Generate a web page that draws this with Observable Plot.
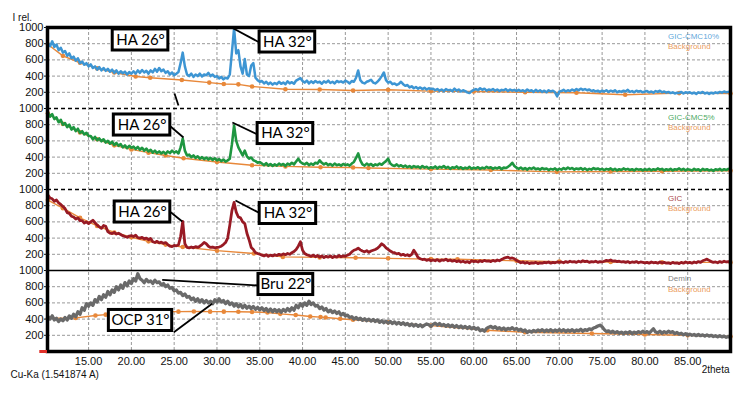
<!DOCTYPE html>
<html><head><meta charset="utf-8">
<script src="https://cdn.jsdelivr.net/npm/d3@7"></script>
<script src="https://cdn.jsdelivr.net/npm/@observablehq/plot@0.6"></script>
<style>body{margin:0;background:#fff}#chart{width:745px;height:393px}</style>
</head><body><div id="chart"></div>
<script>
// ---- sampling grid (2theta) ----
const xStart = 10.25, xStep = 0.25;
const xTicks = [15,20,25,30,35,40,45,50,55,60,65,70,75,80,85];
const yTicks = [200,400,600,800,1000];
const seriesNames = ["GIC-CMC10%","GIC-CMC5%","GIC","Demin"];
const seriesColors = ["#3d95d3","#1e9640","#981a24","#6a6a6a"];
const seriesWidths = [2.5, 2.6, 2.8, 3.3];
const bgColor = "#e8883a";

// ---- intensities (I rel.), one value per 0.25 deg from 10.25 to 90 ----
const cmc10 = [
810,770,830,760,790,720,750,690,710,650,680,620,640,590,620,560,580,540,560,520,
545,500,520,480,510,470,500,465,490,455,480,440,470,430,460,435,455,420,450,430,
460,430,470,440,475,445,465,430,470,445,490,455,500,460,480,440,460,420,445,410,
430,450,560,690,520,420,400,430,390,420,400,430,395,420,410,440,400,420,390,400,
370,390,360,380,370,420,700,990,680,720,520,430,610,420,400,530,560,380,350,330,
340,310,330,300,320,295,315,300,330,305,320,300,335,310,325,305,345,360,375,340,
320,345,310,335,315,340,320,330,305,335,320,345,315,330,310,340,325,335,320,345,
330,310,340,330,380,470,350,320,310,330,340,355,320,310,330,360,400,445,350,320,
330,300,310,290,305,330,300,280,290,260,275,250,265,245,260,240,255,235,250,240,
245,225,240,220,235,215,240,225,230,215,245,220,235,210,225,215,200,190,215,230,
240,225,250,230,245,220,235,225,240,220,235,215,230,225,240,215,235,220,230,215,
230,215,225,210,235,215,225,205,230,210,225,205,220,200,225,210,220,200,150,210,
215,230,210,225,215,235,220,240,225,245,230,240,225,235,215,225,210,220,205,220,
210,225,205,220,210,225,200,215,205,220,210,230,205,215,200,220,210,215,200,210,
215,200,210,195,215,205,220,200,210,195,205,190,200,185,195,190,205,185,200,195,
200,185,195,180,200,190,205,185,195,180,195,185,200,190,205,195,210,200,205,210];
const cmc5 = [
950,900,930,870,890,830,860,800,820,770,800,740,770,720,750,700,720,680,700,660,
660,620,650,610,630,595,620,580,600,565,590,550,575,540,560,520,545,510,540,515,
530,500,525,490,515,480,505,470,490,455,480,450,470,445,465,440,470,450,480,455,
470,445,520,630,480,420,430,400,420,390,410,380,400,375,395,370,390,365,385,360,
375,350,370,345,360,380,560,790,600,520,470,420,480,410,380,395,360,350,330,340,
320,300,325,295,315,290,310,295,320,300,315,290,320,305,330,310,345,380,340,320,
310,330,300,320,305,330,320,360,330,310,325,300,315,295,320,300,310,295,315,300,
310,295,320,340,390,445,360,310,295,320,300,315,290,310,300,320,305,330,350,380,
320,300,290,310,285,300,280,295,275,290,270,290,275,285,265,290,270,280,260,275,
265,285,260,280,270,290,265,280,255,275,265,285,260,275,255,270,260,280,255,270,
260,275,255,270,260,280,265,275,255,270,260,275,250,270,265,280,300,330,290,270,
255,270,250,265,245,265,255,270,250,260,245,265,250,260,240,255,245,260,240,255,
245,265,250,270,255,265,245,260,250,265,245,260,240,255,245,265,250,260,245,255,
240,255,245,260,240,255,235,250,240,260,245,255,240,250,235,255,245,250,235,250,
240,255,235,250,240,260,245,255,235,250,240,255,235,250,245,260,240,255,235,250,
245,235,255,240,250,230,255,240,250,235,245,230,250,240,255,235,250,240,255,245];
const gic = [
930,895,885,855,870,835,815,790,765,715,705,670,660,635,650,615,615,585,600,580,
600,620,590,560,540,520,555,545,480,460,455,470,450,460,445,430,420,410,425,430,
420,435,405,400,410,390,400,380,395,355,345,360,340,350,335,345,320,300,295,310,
305,315,420,605,330,285,280,290,280,295,285,300,320,345,330,300,285,290,280,285,
290,300,320,345,400,560,740,840,720,660,650,600,580,460,380,285,260,220,210,200,
190,180,195,175,190,180,195,185,200,190,205,195,210,200,220,235,260,300,355,250,
210,195,185,175,190,170,185,165,180,160,175,165,180,160,175,165,185,170,180,175,
190,200,230,250,260,275,255,240,230,245,225,240,250,260,275,300,330,310,280,260,
240,225,220,205,210,190,200,185,195,180,200,250,210,160,145,135,140,125,135,120,
130,120,135,115,130,125,140,120,130,115,125,110,120,105,115,100,110,95,120,110,
115,105,120,110,125,115,120,110,125,115,130,120,135,150,160,165,150,155,145,125,
110,95,105,90,100,85,95,90,100,85,95,90,100,95,105,90,100,95,105,100,
105,95,110,100,115,105,110,100,115,105,120,110,115,100,110,105,115,100,110,105,
115,125,120,130,115,120,110,115,105,110,100,110,95,105,100,110,95,105,100,95,
100,90,105,95,100,90,105,95,100,90,95,85,100,90,95,85,100,90,105,95,
100,90,105,95,110,100,120,130,140,125,110,100,105,95,110,100,115,105,110,105];
const demin = [
430,400,440,390,410,370,400,380,420,390,440,410,460,430,490,460,540,510,590,560,
600,570,640,610,680,640,700,670,740,700,760,730,800,760,820,780,850,810,870,840,
900,870,960,900,880,850,890,860,870,840,880,850,860,820,840,800,820,780,790,750,
760,720,730,690,710,670,680,640,660,620,650,610,640,600,630,600,620,590,640,610,
650,610,630,590,620,580,600,560,590,550,580,540,570,535,560,530,555,520,545,515,
540,505,530,495,525,490,520,490,515,485,520,495,530,500,540,510,570,540,590,560,
600,570,620,580,600,560,570,530,550,510,530,490,510,480,500,470,490,450,470,440,
450,420,430,400,420,395,410,385,405,380,400,375,395,370,390,360,380,355,375,350,
370,345,365,340,360,335,355,330,345,320,340,315,335,310,330,305,325,340,330,310,
335,350,325,345,320,335,310,330,305,325,300,320,295,315,290,310,285,305,280,300,
275,290,255,270,250,285,300,310,290,305,280,295,270,290,265,285,275,295,270,285,
260,275,250,265,235,255,240,260,245,265,250,270,245,265,250,270,245,265,250,270,
250,270,245,265,250,270,245,265,255,275,250,270,260,280,270,290,300,315,325,305,
270,245,255,235,250,230,245,225,240,220,240,225,245,220,240,225,245,230,250,235,
245,225,255,280,240,230,250,225,245,230,250,235,245,220,235,215,225,205,220,200,
215,200,210,195,210,195,205,190,205,190,200,185,195,180,195,180,190,175,185,180];

// ---- background curves (anchor points) ----
const bg10X = [10.25,12,14,16,18,20.5,22.2,25.9,29.1,30.8,32.5,34.1,38,42,45.9,50,55,60,66,72,77.7,84,90];
const bg10V = [790,650,565,495,445,395,380,352,320,303,298,272,238,235,222,232,215,210,200,195,170,190,185];
const bg5X = [10.25,12,14,16,18,20,22,24,26.1,30,34.1,38,42.1,45.9,47.7,55,62,69.7,76,82,90];
const bg5V = [940,810,705,620,545,495,455,420,385,340,300,285,275,272,265,252,240,218,222,225,232];
const bgGX = [10.25,12,14,16,18,20,22,24,26,30,34.3,37.7,42,46.2,50,55,58.1,65,70,76,82,90];
const bgGV = [870,770,650,550,470,410,360,320,290,245,210,168,162,158,150,140,138,120,110,105,100,100];
const bgDX = [10.25,13.5,15.8,17,18.2,20.5,22.2,23.8,25.5,27.3,29.2,30.8,32.5,34.1,35.9,37.4,39.2,40.9,42.1,42.7,44.4,45.9,50,55,61.6,66,73.8,80,85,90];
const bgDV = [410,415,445,455,465,480,488,490,492,493,492,492,490,488,482,465,450,432,425,420,405,392,360,320,262,238,222,210,200,185];

// ---- annotations ----
const annText = ["HA 26°","HA 32°","HA 26°","HA 32°","HA 26°","HA 32°","Bru 22°","OCP 31°"];
const annPanel = [0,0,1,1,2,2,3,3];
const annX = [21.07,38.23,21.25,38.0,21.3,38.29,38.05,21.07];
const annV = [846,821,796,691,722,704,827,383];
const annW = [6.5,6.5,6.6,6.5,6.5,6.6,6.4,7.4];
const leadPanel = [0,0,1,1,2,2,3,3];
const leadX1 = [25.04,31.93,24.57,31.8,24.6,32.16,23.6,24.96];
const leadV1 = [185,988,778,827,720,864,885,238];
const leadX2 = [25.5,34.96,26.09,34.73,25.94,35.08,34.84,29.43];
const leadV2 = [37,815,642,679,605,704,815,589];

// ---- build tables ----
const off = p => (3 - p) * 1000;
const signals = [cmc10, cmc5, gic, demin];
const bgs = [[bg10X,bg10V],[bg5X,bg5V],[bgGX,bgGV],[bgDX,bgDV]];
const lines = signals.map((arr, p) => arr.map((v, i) => ({x: xStart + i * xStep, y: v + off(p)})));
const bgLines = bgs.map(([xs, vs], p) => xs.map((x, i) => ({x, y: vs[i] + off(p)})));
const allTicks = [0,1,2,3].flatMap(k => yTicks.map(t => t + k * 1000));
const gridY = [0,1,2,3].flatMap(k => [200,400,600,800].map(t => t + k * 1000));
const anns = annText.map((t, i) => ({t, x: annX[i], y: annV[i] + off(annPanel[i]), w: annW[i]}));
const leads = leadX1.map((x, i) => ({x1: x, y1: leadV1[i] + off(leadPanel[i]), x2: leadX2[i], y2: leadV2[i] + off(leadPanel[i])}));
const legends = seriesNames.flatMap((n, p) => [
  {t: n, x: 82.7, y: (p === 3 ? 905 : 893) + off(p), c: seriesColors[p]},
  {t: "Background", x: 82.7, y: 770 + off(p), c: bgColor}]);

const marks = [
  Plot.ruleX(xTicks, {stroke: "#999", strokeDasharray: "3,2", strokeWidth: 1}),
  Plot.ruleY(gridY, {stroke: "#999", strokeDasharray: "3,2", strokeWidth: 1}),
  Plot.ruleY([2000, 3000], {stroke: "#000", strokeDasharray: "4,3", strokeWidth: 1.3}),
  Plot.ruleY([1000], {stroke: "#000", strokeWidth: 1.5}),
];
bgLines.forEach(d => {
  marks.push(Plot.line(d, {x: "x", y: "y", stroke: bgColor, strokeWidth: 1.4}));
  marks.push(Plot.dot(d, {x: "x", y: "y", fill: bgColor, r: 2.3}));
});
lines.forEach((d, p) => marks.push(Plot.line(d, {x: "x", y: "y", stroke: seriesColors[p], strokeWidth: seriesWidths[p]})));
marks.push(
  Plot.text(legends, {x: "x", y: "y", text: "t", fill: "c", textAnchor: "start", fontSize: 8, fillOpacity: 0.85}),
  Plot.link(leads, {x1: "x1", y1: "y1", x2: "x2", y2: "y2", stroke: "#000", strokeWidth: 1.8}),
  Plot.rect(anns, {x1: d => d.x - d.w / 2, x2: d => d.x + d.w / 2, y1: d => d.y - 130, y2: d => d.y + 130, fill: "#fff", stroke: "#000", strokeWidth: 3}),
  Plot.text(anns, {x: "x", y: "y", text: "t", fontSize: 15, fill: "#000", fontFamily: "Lato, 'Open Sans', sans-serif"}),
  Plot.frame({stroke: "#000", strokeWidth: 3.5}),
  Plot.ruleY([0], {x1: 9.3, x2: 10.2, stroke: "#e0302a", strokeWidth: 3}),
  Plot.axisY(allTicks, {tickFormat: t => String(t % 1000 === 0 ? 1000 : t % 1000), tickSize: 3, tickPadding: 1, fontSize: 11, label: null}),
  Plot.axisX(xTicks, {tickFormat: t => t.toFixed(2), tickSize: 0, tickPadding: 6, fontSize: 11, label: null}),
  Plot.text(["I rel."], {frameAnchor: "top-left", dx: -35, dy: -14, textAnchor: "start", fontSize: 10}),
  Plot.text(["Cu-Ka (1.541874 A)"], {frameAnchor: "bottom-left", dx: -37, dy: 26, textAnchor: "start", fontSize: 10}),
  Plot.text(["2theta"], {frameAnchor: "bottom-right", dx: -1, dy: 21, textAnchor: "end", fontSize: 10})
);

const chart = Plot.plot({
  width: 745, height: 393,
  marginTop: 27, marginBottom: 42, marginLeft: 47, marginRight: 15,
  x: {domain: [10.2, 90]},
  y: {domain: [0, 4000]},
  style: {fontFamily: "'Liberation Sans', Arial, sans-serif", fontSize: "11px", color: "#111", background: "#fff"},
  marks
});
document.getElementById("chart").appendChild(chart);
</script>
</body></html>
